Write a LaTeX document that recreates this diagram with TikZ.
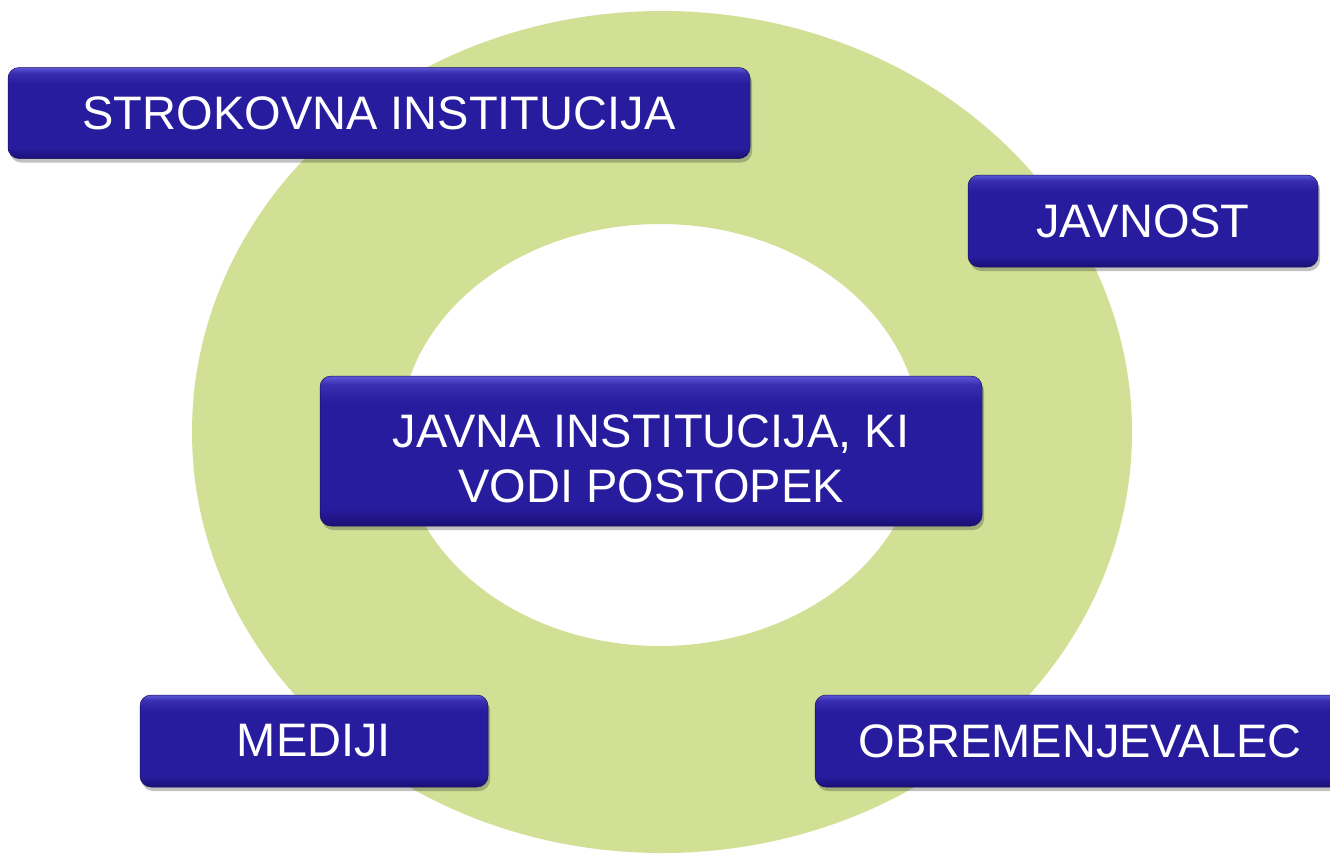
\documentclass[tikz,border=0pt]{standalone}
\usepackage{fontspec}
\setmainfont{Liberation Sans}
\usetikzlibrary{shadows}
\definecolor{ringgreen}{RGB}{209,224,148}
\definecolor{boxtop}{RGB}{92,88,215}
\definecolor{boxmid}{RGB}{40,28,158}
\definecolor{boxbot}{RGB}{26,16,118}
\pgfdeclareverticalshading{boxshade}{100bp}{color(0bp)=(boxbot); color(25bp)=(boxbot); color(31bp)=(boxmid); color(66bp)=(boxmid); color(72bp)=(boxmid!70!boxtop); color(75bp)=(boxtop); color(100bp)=(boxtop)}
\tikzset{
  boxshape/.style={rounded corners=11pt, shading=boxshade,
    draw=boxbot!80!black, line width=0.5pt,
    drop shadow={shadow xshift=2pt, shadow yshift=-4pt, opacity=0.3, fill=black!80}},
  bluebox/.style={boxshape, text=white, align=center, inner sep=0pt,
    font=\fontsize{47}{55}\selectfont},
  boxtext/.style={text=white, align=center, inner sep=0pt, font=\fontsize{47}{55}\selectfont},
}
\begin{document}
\begin{tikzpicture}[x=1pt,y=-1pt]
\useasboundingbox (0,0) rectangle (1330,854);
\fill[white] (0,0) rectangle (1330,854);
% ring
\fill[ringgreen, even odd rule] (662,432) ellipse [x radius=470, y radius=421]
  (660,435) ellipse [x radius=260, y radius=211];
% boxes
\node[bluebox, minimum width=742pt, minimum height=91pt] (strok) at (379,113) {STROKOVNA INSTITUCIJA};
\node[bluebox, minimum width=350pt, minimum height=92pt] (javnost) at (1143,221) {JAVNOST};
\node[boxshape, minimum width=662pt, minimum height=150pt] (center) at (651,451) {};
\node[boxtext] (centertext) at ([yshift=-8pt]center.center) {JAVNA INSTITUCIJA, KI\\VODI POSTOPEK};
\node[bluebox, minimum width=348pt, minimum height=92pt] (mediji) at (314,741) {MEDIJI};
\node[bluebox, minimum width=530pt, minimum height=92pt] (obrem) at (1080,741) {OBREMENJEVALEC};
\end{tikzpicture}
\end{document}
